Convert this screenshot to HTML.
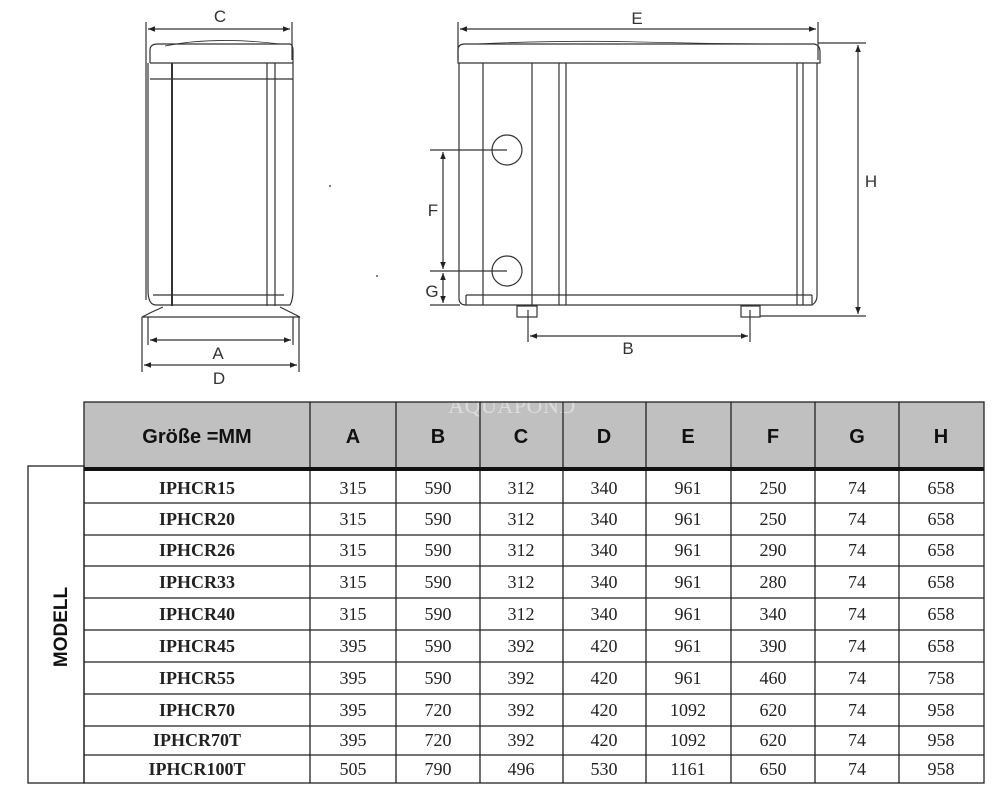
<!DOCTYPE html>
<html><head><meta charset="utf-8"><style>
html,body{margin:0;padding:0;background:#fff;}
svg{display:block;}
.s{font-family:"Liberation Sans",sans-serif;}
.r{font-family:"Liberation Serif",serif;}
</style></head><body>
<svg width="1000" height="807" viewBox="0 0 1000 807" xmlns="http://www.w3.org/2000/svg">
<defs>
<marker id="ar" viewBox="0 0 10 10" refX="10" refY="5" markerWidth="6" markerHeight="6" orient="auto-start-reverse"><path d="M0,1 L10,5 L0,9 z" fill="#222"/></marker>
</defs>
<rect width="1000" height="807" fill="#fff"/>

<g stroke="#333" fill="none" stroke-width="1.2">
<line x1="146" y1="22" x2="146" y2="300"/>
<line x1="292" y1="22" x2="292" y2="60"/>
<line x1="148" y1="29" x2="290" y2="29" marker-start="url(#ar)" marker-end="url(#ar)"/>
<path d="M150,63 L150,50 Q150,44 158,44 L290,44 Q293,45 293,50 L293,63"/>
<path d="M165,46 Q215,36 280,44" stroke-width="0.8"/>
<line x1="150" y1="63" x2="293" y2="63"/>
<line x1="150" y1="79" x2="293" y2="79"/>
<path d="M148,63 L148,290 Q148,305 156,305 L290,305 Q293,300 293,290 L293,63"/>
<line x1="172" y1="63" x2="172" y2="306" stroke-width="2"/>
<line x1="267" y1="63" x2="267" y2="306"/>
<line x1="275" y1="63" x2="275" y2="306"/>
<line x1="153" y1="295" x2="284" y2="295"/>
<path d="M163,307 L152,312 L142,317 L300,317 L290,312 L280,307"/>
<line x1="148" y1="317" x2="148" y2="345"/>
<line x1="293" y1="317" x2="293" y2="345"/>
<line x1="142" y1="317" x2="142" y2="372"/>
<line x1="299" y1="317" x2="299" y2="372"/>
<line x1="150" y1="340" x2="291" y2="340" marker-start="url(#ar)" marker-end="url(#ar)"/>
<line x1="144" y1="365" x2="297" y2="365" marker-start="url(#ar)" marker-end="url(#ar)"/>
</g>
<g class="s" font-size="17" fill="#333" text-anchor="middle">
<text x="220" y="22">C</text>
<text x="218" y="359">A</text>
<text x="219" y="384">D</text>
</g>
<circle cx="330" cy="186" r="1" fill="#555"/>
<circle cx="377" cy="276" r="1" fill="#555"/>

<g stroke="#333" fill="none" stroke-width="1.2">
<line x1="458" y1="22" x2="458" y2="60"/>
<line x1="818" y1="22" x2="818" y2="60"/>
<line x1="460" y1="29" x2="816" y2="29" marker-start="url(#ar)" marker-end="url(#ar)"/>
<path d="M458,63 L458,50 Q458,44 465,44 L814,44 Q820,45 820,52 L820,63 Z"/>
<path d="M475,44 Q560,40 640,42 T800,44" stroke-width="0.8"/>
<path d="M459,63 L459,298 Q459,305 466,305 L812,305 Q817,302 817,296 L817,63"/>
<line x1="483" y1="63" x2="483" y2="305"/>
<line x1="532" y1="63" x2="532" y2="305"/>
<line x1="559" y1="63" x2="559" y2="305"/>
<line x1="566" y1="63" x2="566" y2="305"/>
<line x1="797" y1="63" x2="797" y2="305"/>
<line x1="803" y1="63" x2="803" y2="305"/>
<line x1="466" y1="295" x2="812" y2="295"/>
<line x1="466" y1="295" x2="466" y2="305"/>
<line x1="812" y1="295" x2="812" y2="305"/>
<circle cx="507" cy="150" r="15"/>
<circle cx="507" cy="271" r="15"/>
<line x1="430" y1="150" x2="507" y2="150"/>
<line x1="430" y1="271" x2="507" y2="271"/>
<line x1="430" y1="305" x2="460" y2="305"/>
<line x1="443" y1="152" x2="443" y2="269" marker-start="url(#ar)" marker-end="url(#ar)"/>
<line x1="443" y1="273" x2="443" y2="303" marker-start="url(#ar)" marker-end="url(#ar)"/>
<rect x="517" y="306" width="20" height="11"/>
<rect x="741" y="306" width="19" height="11"/>
<line x1="818" y1="43" x2="866" y2="43"/>
<line x1="760" y1="316" x2="866" y2="316"/>
<line x1="858" y1="45" x2="858" y2="314" marker-start="url(#ar)" marker-end="url(#ar)"/>
<line x1="528" y1="310" x2="528" y2="342"/>
<line x1="750" y1="310" x2="750" y2="342"/>
<line x1="530" y1="336" x2="748" y2="336" marker-start="url(#ar)" marker-end="url(#ar)"/>
</g>
<g class="s" font-size="17" fill="#333" text-anchor="middle">
<text x="637" y="24">E</text>
<text x="871" y="187">H</text>
<text x="433" y="216">F</text>
<text x="432" y="297">G</text>
<text x="628" y="354">B</text>
</g>

<rect x="84" y="402" width="900" height="65" fill="#c0c0c0"/>
<text x="512" y="413" class="r" font-size="22" fill="#fff" fill-opacity="0.45" text-anchor="middle" letter-spacing="0.5">AQUAPOND</text>
<g stroke="#222" fill="none" stroke-width="1.3">
<rect x="84" y="402" width="900" height="381"/>
<rect x="28" y="466" width="56" height="317"/>
<line x1="310" y1="402" x2="310" y2="783"/>
<line x1="396" y1="402" x2="396" y2="783"/>
<line x1="480" y1="402" x2="480" y2="783"/>
<line x1="563" y1="402" x2="563" y2="783"/>
<line x1="646" y1="402" x2="646" y2="783"/>
<line x1="731" y1="402" x2="731" y2="783"/>
<line x1="815" y1="402" x2="815" y2="783"/>
<line x1="899" y1="402" x2="899" y2="783"/>
<line x1="84" y1="503" x2="984" y2="503"/>
<line x1="84" y1="535" x2="984" y2="535"/>
<line x1="84" y1="566" x2="984" y2="566"/>
<line x1="84" y1="598" x2="984" y2="598"/>
<line x1="84" y1="630" x2="984" y2="630"/>
<line x1="84" y1="662" x2="984" y2="662"/>
<line x1="84" y1="694" x2="984" y2="694"/>
<line x1="84" y1="726" x2="984" y2="726"/>
<line x1="84" y1="755" x2="984" y2="755"/>
</g>
<rect x="84" y="467" width="900" height="4" fill="#111"/>
<g class="s" font-weight="bold" font-size="20" fill="#111" text-anchor="middle">
<text x="197" y="443">Größe =MM</text>
<text x="353" y="443">A</text>
<text x="438" y="443">B</text>
<text x="521" y="443">C</text>
<text x="604" y="443">D</text>
<text x="688" y="443">E</text>
<text x="773" y="443">F</text>
<text x="857" y="443">G</text>
<text x="941" y="443">H</text>
<text transform="translate(67,627) rotate(-90)" font-size="19">MODELL</text>
</g>
<g class="r" font-size="18" fill="#222" text-anchor="middle" font-weight="bold">
<text x="197" y="494">IPHCR15</text>
<text x="197" y="525">IPHCR20</text>
<text x="197" y="556">IPHCR26</text>
<text x="197" y="588">IPHCR33</text>
<text x="197" y="620">IPHCR40</text>
<text x="197" y="652">IPHCR45</text>
<text x="197" y="684">IPHCR55</text>
<text x="197" y="716">IPHCR70</text>
<text x="197" y="746">IPHCR70T</text>
<text x="197" y="775">IPHCR100T</text>
</g>
<g class="r" font-size="18" fill="#222" text-anchor="middle">
<text y="494"><tspan x="353">315</tspan><tspan x="438">590</tspan><tspan x="521">312</tspan><tspan x="604">340</tspan><tspan x="688">961</tspan><tspan x="773">250</tspan><tspan x="857">74</tspan><tspan x="941">658</tspan></text>
<text y="525"><tspan x="353">315</tspan><tspan x="438">590</tspan><tspan x="521">312</tspan><tspan x="604">340</tspan><tspan x="688">961</tspan><tspan x="773">250</tspan><tspan x="857">74</tspan><tspan x="941">658</tspan></text>
<text y="556"><tspan x="353">315</tspan><tspan x="438">590</tspan><tspan x="521">312</tspan><tspan x="604">340</tspan><tspan x="688">961</tspan><tspan x="773">290</tspan><tspan x="857">74</tspan><tspan x="941">658</tspan></text>
<text y="588"><tspan x="353">315</tspan><tspan x="438">590</tspan><tspan x="521">312</tspan><tspan x="604">340</tspan><tspan x="688">961</tspan><tspan x="773">280</tspan><tspan x="857">74</tspan><tspan x="941">658</tspan></text>
<text y="620"><tspan x="353">315</tspan><tspan x="438">590</tspan><tspan x="521">312</tspan><tspan x="604">340</tspan><tspan x="688">961</tspan><tspan x="773">340</tspan><tspan x="857">74</tspan><tspan x="941">658</tspan></text>
<text y="652"><tspan x="353">395</tspan><tspan x="438">590</tspan><tspan x="521">392</tspan><tspan x="604">420</tspan><tspan x="688">961</tspan><tspan x="773">390</tspan><tspan x="857">74</tspan><tspan x="941">658</tspan></text>
<text y="684"><tspan x="353">395</tspan><tspan x="438">590</tspan><tspan x="521">392</tspan><tspan x="604">420</tspan><tspan x="688">961</tspan><tspan x="773">460</tspan><tspan x="857">74</tspan><tspan x="941">758</tspan></text>
<text y="716"><tspan x="353">395</tspan><tspan x="438">720</tspan><tspan x="521">392</tspan><tspan x="604">420</tspan><tspan x="688">1092</tspan><tspan x="773">620</tspan><tspan x="857">74</tspan><tspan x="941">958</tspan></text>
<text y="746"><tspan x="353">395</tspan><tspan x="438">720</tspan><tspan x="521">392</tspan><tspan x="604">420</tspan><tspan x="688">1092</tspan><tspan x="773">620</tspan><tspan x="857">74</tspan><tspan x="941">958</tspan></text>
<text y="775"><tspan x="353">505</tspan><tspan x="438">790</tspan><tspan x="521">496</tspan><tspan x="604">530</tspan><tspan x="688">1161</tspan><tspan x="773">650</tspan><tspan x="857">74</tspan><tspan x="941">958</tspan></text>
</g>
</svg>
</body></html>
